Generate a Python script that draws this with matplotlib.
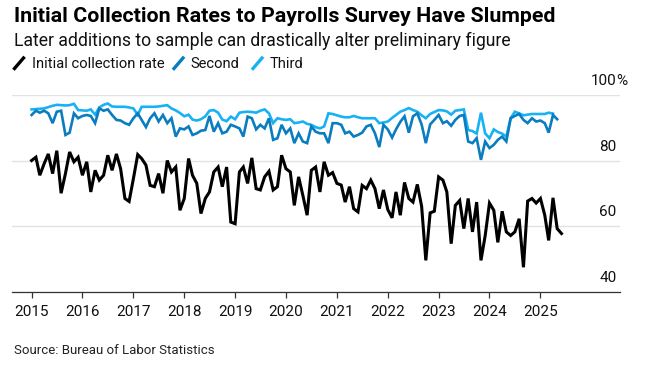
import matplotlib
matplotlib.use("Agg")
import matplotlib.pyplot as plt
from matplotlib.lines import Line2D
import pandas as pd
import datetime as dt

# ---------------- data ----------------
initial_rate = [80, 81, 75.5, 79, 82, 76, 83, 70, 76, 82.6, 79.6, 81, 75.5, 79.6, 70.4, 77, 74, 75.5, 81.6, 77,
                82, 77.5, 68.4, 67.5, 74.5, 81.8, 80.6, 78.6, 72.4, 72, 76, 70, 80, 76.5, 78, 64.8, 68.4, 80.6, 75.5, 73,
                63.8, 68.4, 70.4, 76.5, 78, 72, 78, 61.2, 60.7, 76.5, 78, 73, 80.8, 71.4, 71, 75, 76.7, 71, 72, 81.6,
                77.5, 76.5, 66.3, 75, 69.4, 63.3, 77, 78, 70.4, 79.6, 75.5, 76.3, 73, 72.5, 67.3, 72, 65.3, 64.3, 72.4, 71.4,
                74, 71.4, 65.3, 71, 65, 62.5, 70.4, 63.3, 73.3, 68.4, 67.3, 72.7, 66, 49.5, 64, 64.5, 75, 74, 70.4, 54.6,
                66.3, 67.8, 59.2, 68.4, 58.2, 67.3, 49.5, 57, 67, 64.8, 55, 64.5, 58.2, 57.1, 58.2, 62.2, 47.4, 67.6, 68.4, 67,
                68.4, 63.3, 55.6, 68.6, 59.2, 57.7]

second_rate = [93.9, 95.2, 94.6, 95.2, 94.4, 91.4, 94.9, 95.2, 87.8, 88.5, 94.4, 92.9, 93.6, 93.9, 93.6, 91.4, 95.9, 95.2, 95.6, 93.9,
               92.4, 92.2, 91.4, 90.9, 92.9, 94.4, 92.4, 90.2, 92.9, 94.4, 91.9, 93.9, 91.4, 92.9, 87.3, 89.8, 89.5, 90.4, 87.8, 88.3,
               89.1, 89.3, 93.6, 88.8, 91.4, 88.3, 88.8, 90.9, 90.4, 89.8, 87.3, 93.4, 92.9, 89.5, 90.9, 89.8, 92.9, 86.3, 86.8, 90.9,
               88.3, 89.8, 85.3, 88.3, 85.8, 85.3, 90.4, 88.8, 88.3, 88.3, 85.3, 91.4, 91.4, 90.9, 88.3, 88.8, 87.3, 87.8, 88.5, 90.4,
               90.9, 88.3, 84.1, 90.9, 89.5, 87, 89.5, 91.8, 93.5, 88.5, 93.5, 94.4, 91, 85.3, 91, 92.4, 93.9, 91.4, 92, 90.6,
               92.4, 93.6, 93.9, 85.8, 85.3, 86.8, 80.2, 85.8, 83.8, 84.8, 86.3, 87.3, 85.8, 92.9, 93.6, 94.2, 92.4, 91.4, 92.9, 91.9,
               92.2, 91.4, 88.5, 93.9, 92.6]

third_rate = [95.6, 95.7, 95.8, 95.9, 96.3, 96.7, 97, 96.9, 96.8, 96.9, 97.3, 95.4, 95.3, 95.2, 95.6, 94.0, 96.2, 97, 97.4, 96.5,
              96.4, 96.4, 96.4, 96.2, 95.9, 93.9, 96.4, 96.4, 96.4, 96.4, 96.5, 96.7, 96.9, 95.9, 95.3, 94.5, 93.5, 94, 92.5, 92.2,
              92.6, 93.5, 95.2, 95.4, 94.6, 92.5, 92, 93.4, 92.6, 94.6, 94.8, 94.9, 94.8, 94.6, 95.2, 95.6, 94.4, 91.4, 92.9, 92.6,
              92.4, 92.6, 91.4, 91.6, 91.9, 91.2, 90.9, 90.2, 89.8, 90.4, 94.4, 94.2, 93.8, 93.4, 93.2, 93.2, 93.6, 93.2, 92.9, 92.9,
              92.9, 92.9, 91.4, 91.6, 91.9, 93, 93.9, 94.9, 95.4, 96, 95.4, 94.9, 93.8, 92.9, 94.2, 94.8, 95.4, 95.3, 95, 94,
              95.2, 95.4, 95.6, 89.3, 89, 88.2, 94.6, 88.3, 86.8, 89.5, 88.7, 88.2, 87.3, 92.9, 94.9, 94.4, 93.8, 94, 94.2, 94.2,
              94.2, 94.2, 94.6, 94.3]

series_names = ["Initial collection rate", "Second", "Third"]
series_colors = ["#000000", "#0a7cc0", "#18b2f4"]
y_ticks = [40, 60, 80, 100]
x_years = list(range(2015, 2026))

start = "2015-01-01"
dates_initial = pd.date_range(start, periods=len(initial_rate), freq="MS")
dates_second = pd.date_range(start, periods=len(second_rate), freq="MS")
dates_third = pd.date_range(start, periods=len(third_rate), freq="MS")

# ---------------- figure ----------------
W, H = 653, 368
fig = plt.figure(figsize=(W / 100, H / 100), dpi=100)
fig.patch.set_facecolor("white")

def fx(px):
    return px / W

def fy(py):
    return 1 - py / H

ax_left, ax_right, ax_top, ax_bottom = 12.5, 620, 95, 291.5
ax = fig.add_axes([fx(ax_left), fy(ax_bottom), fx(ax_right - ax_left), (ax_bottom - ax_top) / H])

ax.plot(dates_initial, initial_rate, color=series_colors[0], lw=2.2, zorder=5, solid_joinstyle="miter")
ax.plot(dates_second, second_rate, color=series_colors[1], lw=1.9, zorder=4, solid_joinstyle="miter")
ax.plot(dates_third, third_rate, color=series_colors[2], lw=1.9, zorder=3, solid_joinstyle="miter")

ax.set_ylim(40, 100)
ax.set_xlim(dt.datetime(2014, 8, 17), dt.datetime(2026, 7, 26))

for s in ["top", "right", "left"]:
    ax.spines[s].set_visible(False)
ax.spines["bottom"].set_color("#333333")
ax.spines["bottom"].set_linewidth(0.9)

ax.set_yticks(y_ticks)
ax.tick_params(axis="y", length=0, labelleft=False, labelright=False)
ax.grid(axis="y", color="#e2e2e2", lw=1.0, zorder=0)
ax.grid(axis="x", visible=False)

ax.set_xticks([dt.datetime(y, 1, 1) for y in x_years])
ax.set_xticklabels([str(y) for y in x_years])
ax.tick_params(axis="x", length=4.5, width=0.9, color="#333333", pad=5.5,
               labelsize=11, labelcolor="#111111")
for lab in ax.get_xticklabels():
    lab.set_fontfamily("Roboto")

# y labels above grid lines at the right
for v in y_ticks:
    ax.annotate(str(v), xy=(0.9945, v), xycoords=("axes fraction", "data"),
                xytext=(0, 5), textcoords="offset points",
                ha="right", va="bottom", fontsize=11, color="#111111", family="Roboto")
ax.annotate("%", xy=(0.9945, 100), xycoords=("axes fraction", "data"),
            xytext=(0, 5), textcoords="offset points",
            ha="left", va="bottom", fontsize=11, color="#111111", family="Roboto")

# ---------------- text ----------------
fig.text(fx(14), fy(21.5), "Initial Collection Rates to Payrolls Survey Have Slumped",
         fontsize=15.4, fontweight="bold", family="Roboto", color="#000000", va="baseline", ha="left")
fig.text(fx(14), fy(45.5), "Later additions to sample can drastically alter preliminary figure",
         fontsize=12.7, family="Roboto", color="#111111", va="baseline", ha="left")

legend_items = [(14.5, 31.5), (174, 190), (253, 270)]
for (icon_x, text_x), name, col in zip(legend_items, series_names, series_colors):
    fig.add_artist(Line2D([fx(icon_x), fx(icon_x + 9)], [fy(68.5), fy(58)],
                          color=col, lw=2.4, transform=fig.transFigure))
    fig.text(fx(text_x), fy(68.5), name, fontsize=10.6, family="Roboto", color="#111111",
             va="baseline", ha="left")

fig.text(fx(14), fy(353.5), "Source: Bureau of Labor Statistics",
         fontsize=9.5, family="Roboto", color="#222222", va="baseline", ha="left")

fig.savefig("out.png", dpi=100, facecolor="white")
